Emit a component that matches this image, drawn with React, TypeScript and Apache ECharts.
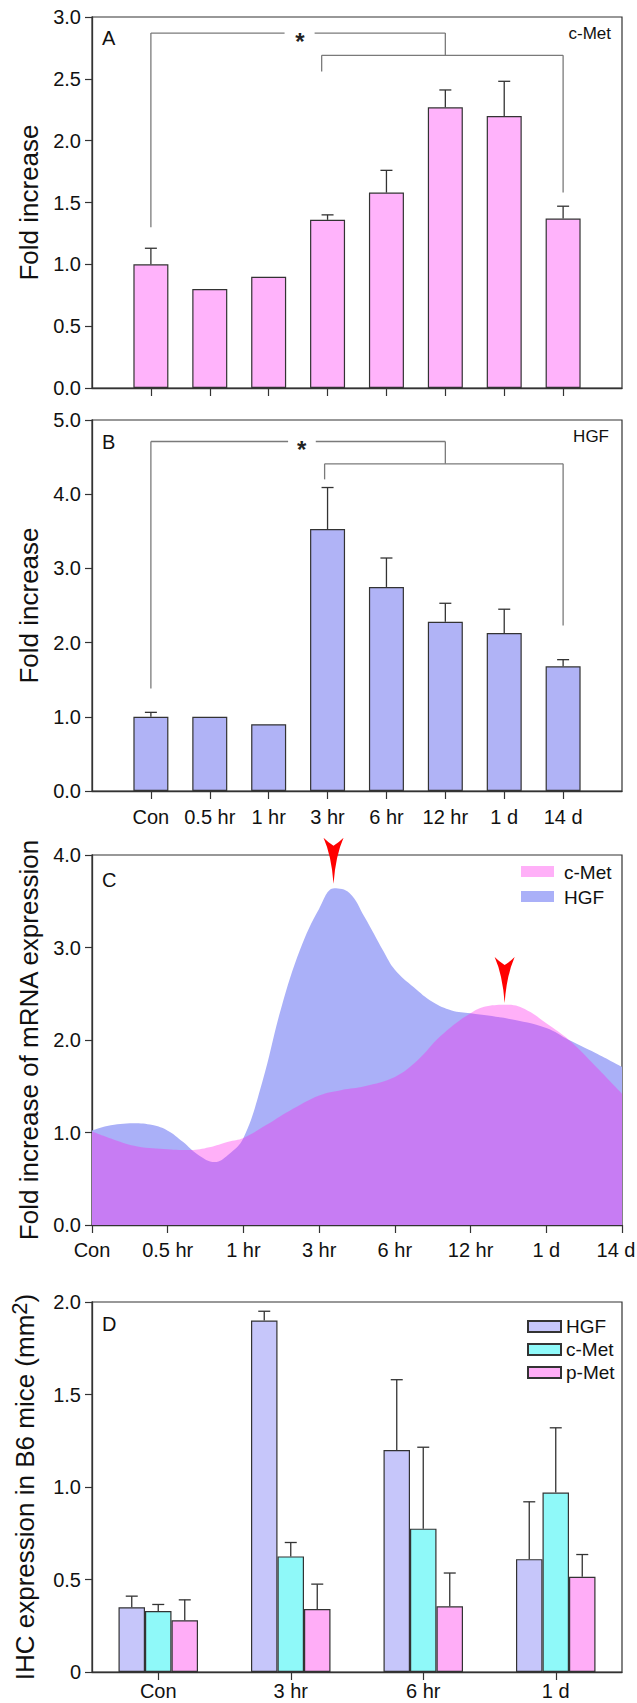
import React, { useEffect, useRef } from 'react';
import * as echarts from 'echarts';

const FONT = '"Liberation Sans", Arial, sans-serif';

// Panels A & B
const categories = ['Con', '0.5 hr', '1 hr', '3 hr', '6 hr', '12 hr', '1 d', '14 d'];
const catPositions = [0, 1, 2, 3, 4, 5, 6, 7];
const cMetFold = [1.0, 0.8, 0.9, 1.36, 1.58, 2.27, 2.2, 1.37];
const cMetErr = [0.13, 0, 0, 0.04, 0.18, 0.14, 0.28, 0.1];
const hgfFold = [1.0, 1.0, 0.9, 3.53, 2.75, 2.28, 2.13, 1.68];
const hgfErr = [0.06, 0, 0, 0.56, 0.39, 0.25, 0.32, 0.09];

// significance brackets: [x1, y1, x2, y2]
const bracketA = [
  [0, 1.3, 0, 2.87],
  [0, 2.87, 2.27, 2.87],
  [2.78, 2.87, 5, 2.87],
  [5, 2.87, 5, 2.69],
  [2.9, 2.56, 2.9, 2.69],
  [2.9, 2.69, 7, 2.69],
  [7, 2.69, 7, 1.58],
];
const starA = [[2.53, 2.87]];
const bracketB = [
  [0, 1.38, 0, 4.71],
  [0, 4.71, 2.33, 4.71],
  [2.8, 4.71, 5, 4.71],
  [5, 4.71, 5, 4.41],
  [2.95, 4.2, 2.95, 4.41],
  [2.95, 4.41, 7, 4.41],
  [7, 4.41, 7, 2.23],
];
const starB = [[2.56, 4.71]];

// Panel C: traced smoothed curves
const hgfCurveX = [0, 0.2, 0.55, 0.8, 1.0, 1.2, 1.4, 1.62, 1.8, 2.0, 2.25, 2.5, 2.75, 3.0, 3.2, 3.4, 3.6, 3.85, 4.0, 4.25, 4.5, 4.75, 5.0, 5.5, 6.0, 6.3, 6.65, 7.0];
const hgfCurveY = [1.02, 1.07, 1.1, 1.08, 1.02, 0.9, 0.76, 0.68, 0.76, 0.94, 1.55, 2.35, 2.98, 3.42, 3.64, 3.59, 3.33, 2.96, 2.76, 2.57, 2.41, 2.32, 2.29, 2.23, 2.13, 2.0, 1.86, 1.71];
const cMetCurveX = [0, 0.3, 0.6, 1.0, 1.3, 1.55, 1.8, 2.0, 2.3, 2.6, 3.0, 3.3, 3.6, 4.0, 4.3, 4.6, 5.0, 5.25, 5.5, 5.75, 6.0, 6.3, 6.6, 7.0];
const cMetCurveY = [1.01, 0.92, 0.85, 0.82, 0.81, 0.84, 0.9, 0.94, 1.08, 1.23, 1.4, 1.46, 1.5, 1.6, 1.78, 2.04, 2.29, 2.37, 2.38, 2.32, 2.18, 2.0, 1.76, 1.42];
const peakArrows = [[3.19, 3.69], [5.45, 2.4]];

// Panel D
const ihcGroups = ['Con', '3 hr', '6 hr', '1 d'];
const ihcHGF = [0.35, 1.9, 1.2, 0.61];
const ihcHGFErr = [0.06, 0.05, 0.38, 0.31];
const ihcCMet = [0.33, 0.625, 0.775, 0.97];
const ihcCMetErr = [0.035, 0.075, 0.44, 0.35];
const ihcPMet = [0.28, 0.34, 0.355, 0.515];
const ihcPMetErr = [0.11, 0.135, 0.18, 0.12];

const AXIS = '#333';

function errSeries(xi: number, vals: number[], errs: number[], shift: number) {
  return {
    type: 'custom',
    xAxisIndex: xi,
    yAxisIndex: xi,
    z: 4,
    data: vals.map((v, i) => [i, v, errs[i]]),
    encode: { x: 0, y: 1 },
    renderItem: (params: any, api: any) => {
      const x = api.value(0);
      const v = api.value(1);
      const e = api.value(2);
      if (!e) return { type: 'group', children: [] };
      const p0 = api.coord([x, v]);
      const p1 = api.coord([x, v + e]);
      const off = shift ? shift * api.size([1, 0])[0] : 0;
      const cx = p0[0] + off;
      return {
        type: 'group',
        children: [
          { type: 'line', shape: { x1: cx, y1: p0[1], x2: cx, y2: p1[1] }, style: { stroke: AXIS, lineWidth: 1.3 } },
          { type: 'line', shape: { x1: cx - 6, y1: p1[1], x2: cx + 6, y2: p1[1] }, style: { stroke: AXIS, lineWidth: 1.3 } },
        ],
      };
    },
  };
}

function bracketSeries(xi: number, segs: number[][]) {
  return {
    type: 'custom',
    xAxisIndex: xi,
    yAxisIndex: xi,
    z: 5,
    data: segs,
    encode: { x: [0, 2], y: [1, 3] },
    renderItem: (params: any, api: any) => {
      const a = api.coord([api.value(0), api.value(1)]);
      const b = api.coord([api.value(2), api.value(3)]);
      return { type: 'line', shape: { x1: a[0], y1: a[1], x2: b[0], y2: b[1] }, style: { stroke: '#7a7a7a', lineWidth: 1.3 } };
    },
  };
}

function starSeries(xi: number, pts: number[][]) {
  return {
    type: 'custom',
    xAxisIndex: xi,
    yAxisIndex: xi,
    z: 6,
    data: pts,
    encode: { x: 0, y: 1 },
    renderItem: (params: any, api: any) => {
      const p = api.coord([api.value(0), api.value(1)]);
      return {
        type: 'text',
        x: p[0],
        y: p[1] + 8,
        style: { text: '*', fontSize: 24, fontWeight: 'bold', fontFamily: FONT, fill: '#222', align: 'center', verticalAlign: 'middle', textAlign: 'center', textVerticalAlign: 'middle' },
      };
    },
  };
}

const gridBase = { left: 92, width: 530, show: true, borderColor: AXIS, borderWidth: 1.2, backgroundColor: 'transparent', outerBoundsMode: 'none', containLabel: false };

const axisLine = { show: true, onZero: false, lineStyle: { color: AXIS, width: 1.3 } };
const labelStyle = { fontSize: 20, color: '#111', fontFamily: FONT };
const nameStyle = { fontSize: 26, color: '#111', fontFamily: FONT };

function yAx(gi: number, max: number, interval: number, name: string, zeroPlain = false, nameExtra: any = {}) {
  return {
    gridIndex: gi,
    type: 'value',
    min: 0,
    max,
    interval,
    name,
    nameLocation: 'middle',
    nameGap: 50,
    nameRotate: 90,
    nameTextStyle: { ...nameStyle, ...nameExtra },
    axisLine,
    axisTick: { show: true, inside: false, length: 7, lineStyle: { color: AXIS, width: 1.2 } },
    axisLabel: { ...labelStyle, margin: 11, formatter: (v: number) => (zeroPlain && v === 0 ? '0' : v.toFixed(1)) },
    splitLine: { show: false },
  };
}

function txt(x: number, y: number, text: string, size: number, align = 'left') {
  return {
    type: 'text',
    x,
    y,
    z: 10,
    style: { text, fontSize: size, fontFamily: FONT, fill: '#111', align, verticalAlign: 'middle', textAlign: align, textVerticalAlign: 'middle' },
  };
}

export default function App() {
  const ref = useRef<HTMLDivElement>(null);
  useEffect(() => {
    if (!ref.current) return;
    const chart = echarts.init(ref.current, null, { renderer: 'svg' });
    const option: any = {
      animation: false,
      backgroundColor: '#ffffff',
      textStyle: { fontFamily: FONT },
      grid: [
        { ...gridBase, top: 17, height: 371 },
        { ...gridBase, top: 420, height: 371 },
        { ...gridBase, top: 855, height: 370 },
        { ...gridBase, top: 1302, height: 370 },
      ],
      xAxis: [
        {
          gridIndex: 0, type: 'value', min: -1, max: 8,
          axisLine,
          axisTick: { show: true, customValues: catPositions, length: 8, lineStyle: { color: AXIS, width: 1.2 } },
          axisLabel: { show: false },
          splitLine: { show: false },
        },
        {
          gridIndex: 1, type: 'value', min: -1, max: 8,
          axisLine,
          axisTick: { show: true, customValues: catPositions, length: 8, lineStyle: { color: AXIS, width: 1.2 } },
          axisLabel: { ...labelStyle, customValues: catPositions, margin: 16, formatter: (v: number) => categories[Math.round(v)] ?? '' },
          splitLine: { show: false },
        },
        {
          gridIndex: 2, type: 'value', min: 0, max: 7, interval: 1,
          axisLine,
          axisTick: { show: true, length: 8, lineStyle: { color: AXIS, width: 1.2 } },
          axisLabel: {
            ...labelStyle,
            margin: 15,
            formatter: (v: number) => (Math.round(v) === 7 ? '{last|' + categories[7] + '}' : categories[Math.round(v)] ?? ''),
            rich: { last: { ...labelStyle, padding: [0, 12, 0, 0] } },
          },
          splitLine: { show: false },
        },
        {
          gridIndex: 3, type: 'category', data: ihcGroups,
          axisLine,
          axisTick: { show: true, alignWithLabel: true, length: 8, lineStyle: { color: AXIS, width: 1.2 } },
          axisLabel: { ...labelStyle, margin: 9 },
          splitLine: { show: false },
        },
      ],
      yAxis: [
        yAx(0, 3, 0.5, 'Fold increase'),
        yAx(1, 5, 1, 'Fold increase'),
        yAx(2, 4, 1, 'Fold increase of mRNA expression'),
        yAx(3, 2, 0.5, 'IHC expression in B6 mice (mm{sup|2})', true, {
          rich: { sup: { fontSize: 22, fontFamily: FONT, color: '#111', padding: [0, 0, 12, 0], verticalAlign: 'bottom' } },
        }),
      ],
      legend: {
        data: ['D-HGF', 'D-cMet', 'D-pMet'],
        formatter: (n: string) => ({ 'D-HGF': 'HGF', 'D-cMet': 'c-Met', 'D-pMet': 'p-Met' } as any)[n],
        orient: 'vertical',
        left: 522,
        top: 1312,
        icon: 'rect',
        itemWidth: 33,
        itemHeight: 11,
        itemGap: 4,
        textStyle: { fontSize: 19, color: '#111', fontFamily: FONT },
      },
      graphic: [
        txt(102, 38, 'A', 20),
        txt(102, 442, 'B', 20),
        txt(102, 880, 'C', 20),
        txt(102, 1324, 'D', 20),
        txt(611, 33, 'c-Met', 17, 'right'),
        txt(609, 436, 'HGF', 17, 'right'),
        { type: 'rect', z: 10, shape: { x: 521, y: 866, width: 33, height: 11 }, style: { fill: '#ffb0f8' } },
        txt(564, 872, 'c-Met', 19),
        { type: 'rect', z: 10, shape: { x: 521, y: 891, width: 33, height: 11 }, style: { fill: '#aab0f8' } },
        txt(564, 897, 'HGF', 19),
      ],
      series: [
        {
          type: 'bar', xAxisIndex: 0, yAxisIndex: 0, barWidth: 35,
          data: cMetFold.map((v, i) => [i, v]),
          itemStyle: { color: '#ffb3fb', borderColor: AXIS, borderWidth: 1.2 },
        },
        errSeries(0, cMetFold, cMetErr, 0),
        bracketSeries(0, bracketA),
        starSeries(0, starA),
        {
          type: 'bar', xAxisIndex: 1, yAxisIndex: 1, barWidth: 35,
          data: hgfFold.map((v, i) => [i, v]),
          itemStyle: { color: '#b0b3f6', borderColor: AXIS, borderWidth: 1.2 },
        },
        errSeries(1, hgfFold, hgfErr, 0),
        bracketSeries(1, bracketB),
        starSeries(1, starB),
        {
          name: 'C-HGF', type: 'line', xAxisIndex: 2, yAxisIndex: 2, smooth: 0.4, symbol: 'none',
          data: hgfCurveX.map((x, i) => [x, hgfCurveY[i]]),
          lineStyle: { width: 0 },
          areaStyle: { color: '#aab0f8', opacity: 1 },
          z: 2,
        },
        {
          name: 'C-cMet', type: 'line', xAxisIndex: 2, yAxisIndex: 2, smooth: 0.4, symbol: 'none',
          data: cMetCurveX.map((x, i) => [x, cMetCurveY[i]]),
          lineStyle: { width: 0 },
          areaStyle: { color: 'rgba(255,29,235,0.35)', opacity: 1 },
          z: 3,
          markPoint: {
            symbol: 'path://M0,0 Q5,5 10,8 Q15,5 20,0 Q12,18 10,46 Q8,18 0,0 Z',
            symbolSize: [20, 46],
            symbolOffset: [0, '-50%'],
            itemStyle: { color: '#ff0000' },
            label: { show: false },
            data: peakArrows.map((p) => ({ coord: p })),
          },
        },
        {
          name: 'D-HGF', type: 'bar', xAxisIndex: 3, yAxisIndex: 3, barGap: '0%', barCategoryGap: '40%',
          data: ihcHGF,
          itemStyle: { color: '#c6c6fa', borderColor: AXIS, borderWidth: 1.2 },
        },
        {
          name: 'D-cMet', type: 'bar', xAxisIndex: 3, yAxisIndex: 3, barGap: '0%', barCategoryGap: '40%',
          data: ihcCMet,
          itemStyle: { color: '#8ff9f9', borderColor: AXIS, borderWidth: 1.2 },
        },
        {
          name: 'D-pMet', type: 'bar', xAxisIndex: 3, yAxisIndex: 3, barGap: '0%', barCategoryGap: '40%',
          data: ihcPMet,
          itemStyle: { color: '#ffadf7', borderColor: AXIS, borderWidth: 1.2 },
        },
        errSeries(3, ihcHGF, ihcHGFErr, -0.2),
        errSeries(3, ihcCMet, ihcCMetErr, 0),
        errSeries(3, ihcPMet, ihcPMetErr, 0.2),
      ],
    };
    chart.setOption(option);
    return () => chart.dispose();
  }, []);
  return <div ref={ref} style={{ position: 'absolute', left: 0, top: 0, width: 637, height: 1703 }} />;
}
